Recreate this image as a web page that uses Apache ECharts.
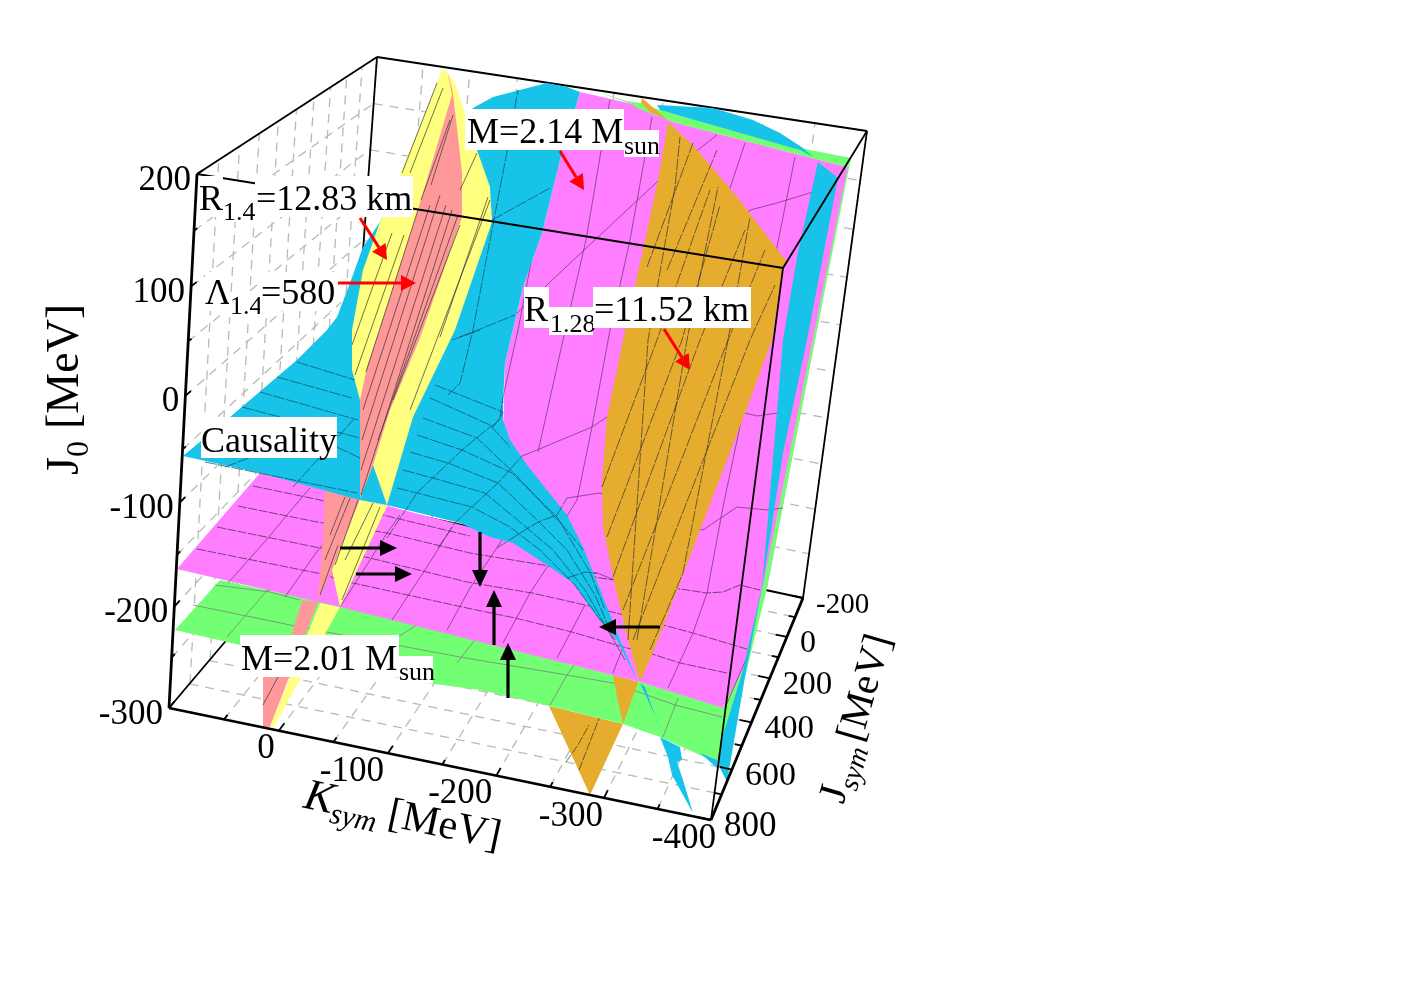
<!DOCTYPE html>
<html>
<head>
<meta charset="utf-8">
<style>html,body{margin:0;padding:0;background:#fff}#chart{width:1404px;height:992px}</style>
<script src="https://cdn.jsdelivr.net/npm/echarts@6/dist/echarts.min.js"></script>
</head>
<body>
<div id="chart"></div>
<script>
// axis values
const kTicks = [0, -100, -200, -300, -400]
const kMinor = [50, -50, -150, -250, -350]
const jsymTicks = [-200, 0, 200, 400, 600, 800]
const jsymMinor = [-100, 100, 300, 500, 700]
const j0Ticks = [200, 100, 0, -100, -200, -300]
const j0Minor = [150, 50, -50, -150, -250]
const kRange = [100, -400]
const jsymRange = [800, -200]
const j0Range = [-300, 200]

const cornerFrontBottomLeft = [169, 708]
const cornerFrontBottomRight = [711, 820]
const cornerBackBottomRight = [803, 598]
const cornerBackBottomLeft = [345, 500]
const cornerFrontTopLeft = [197, 174]
const cornerFrontTopRight = [783, 268]
const cornerBackTopRight = [867, 131]
const cornerBackTopLeft = [377, 57]

// surfaces as seen on the projected plane
const greenSheet = [[175,630],[220,580],[340,606],[640,682],[725,708],[717,762],[700,755],[660,737],[623,724],[550,706],[480,690],[427,683],[300,660],[240,645]]
const greenTop = [[597,92],[627,101],[640,103],[660,110],[800,148],[851,158],[848,167],[800,155],[673,122],[637,108],[632,104]]
const greenRight = [[717,762],[723,708],[743,670],[763,585],[808,363],[843,190],[848,167],[851,158],[815,340],[767,588],[745,677]]
const magentaSheet = [[177,569],[260,473],[500,535],[505,363],[523,287],[542,233],[560,160],[580,92],[637,105],[673,122],[800,155],[848,167],[815,340],[767,588],[752,640],[743,670],[723,708],[640,682],[340,607]]
const orangeLower = [[549,706],[623,724],[590,795]]
const orangeOnGreen = [[613,675],[638,682],[623,724],[617,697]]
const orangeTip = [[642,98],[668,120],[650,112],[641,103]]
const orangeSheet = [[668,122],[660,170],[643,250],[623,340],[607,417],[602,483],[603,527],[613,577],[628,640],[640,682],[658,640],[700,530],[745,413],[772,340],[782,272],[787,262],[737,197],[693,145]]
const cyanSheet = [[473,108],[493,97],[547,83],[567,87],[580,92],[560,160],[542,233],[523,287],[505,363],[503,403],[503,420],[510,440],[527,465],[567,515],[583,547],[603,597],[620,640],[638,682],[617,640],[597,617],[573,583],[550,567],[513,543],[490,537],[460,523],[387,505],[360,500],[260,473],[183,456],[230,417],[297,360],[327,330],[337,317],[350,283],[363,247],[380,222],[400,175],[440,115],[465,117]]
const cyanTop = [[657,105],[713,108],[753,120],[780,133],[803,148],[813,157],[800,150],[660,110]]
const cyanRight = [[818,162],[838,178],[807,340],[783,453],[762,588],[783,340],[797,257]]
const cyanCorner = [[717,762],[723,735],[743,670],[763,582],[745,677],[727,782]]
const cyanCornerWedge = [[700,753],[717,760],[717,768]]
const cyanTailGreen = [[640,683],[645,687],[663,738],[657,720]]
const cyanTailLow = [[660,737],[680,747],[682,760],[677,762],[683,780],[693,813],[672,775],[668,757]]
const yellowSheet = [[443,68],[455,83],[477,150],[490,187],[492,222],[455,330],[413,417],[387,505],[373,465],[360,498],[360,400],[352,370],[352,330],[363,270],[380,222],[400,175]]
const redSheet = [[447,69],[453,93],[462,173],[462,217],[420,338],[390,410],[373,465],[360,498],[360,400],[367,367],[377,337],[417,213],[452,95]]
const redOnMagenta = [[325,490],[360,500],[332,570],[318,600],[323,537]]
const yellowOnMagenta = [[360,499],[387,506],[340,607],[332,570]]
const redOnGreen = [[302,600],[318,602],[270,727],[263,727],[263,677],[290,640]]
const yellowOnGreen = [[320,603],[340,607],[273,728],[270,727]]

// mesh lines on the surfaces
const meshGreen = [
  [[215,585],[270,592],[300,600]],
  [[193,605],[300,627],[460,657],[567,675],[613,683],[675,705],[722,717]],
  [[227,637],[270,587]],
  [[393,640],[420,623]],
  [[457,663],[477,637]],
  [[550,705],[567,675],[585,650]],
  [[663,737],[678,698]]
]
const meshMagentaA = [
  [[253,486],[320,500],[387,516],[470,536]],
  [[238,506],[317,522],[387,533],[470,553],[543,565],[600,578],[680,589],[707,593],[723,592],[740,585],[760,590]],
  [[217,527],[320,548],[370,558],[467,582],[532,593],[585,605],[663,625],[693,633],[750,650]],
  [[197,549],[317,573],[353,583],[467,608],[515,618],[572,632],[623,647],[652,654],[680,663],[727,673]]
]
const meshMagentaB = [
  [[228,583],[268,538],[287,515],[310,488]],
  [[285,597],[318,550],[325,542]],
  [[340,607],[370,560],[387,533],[400,515]],
  [[392,620],[425,570],[452,527]],
  [[447,630],[470,588],[502,540]],
  [[503,643],[530,593],[547,567]],
  [[557,658],[585,605]],
  [[613,673],[623,647]],
  [[668,688],[693,633],[707,593],[723,507],[743,412]],
  [[725,708],[750,650]]
]
const meshMagentaUp = [
  [[460,337],[515,315],[582,252],[657,182],[717,135]],
  [[522,456],[537,450],[592,427],[610,415],[750,210],[777,203],[813,192]],
  [[567,498],[600,493],[703,530],[737,507],[767,510],[783,508]],
  [[567,578],[597,573],[640,590]],
  [[745,413],[757,416],[777,413]],
  [[507,152],[518,90]],
  [[503,397],[518,330],[548,175],[570,95]],
  [[538,452],[563,340],[586,240],[600,157],[610,100]],
  [[577,500],[592,427],[610,330],[630,240],[652,117]],
  [[540,560],[577,500]],
  [[745,143],[727,197]],
  [[795,157],[777,247],[762,330]]
]
const meshOrange = [
  [[602,487],[657,340],[710,190]],
  [[607,537],[682,340],[720,205]],
  [[613,577],[700,340],[745,230]],
  [[623,610],[728,340],[765,250]],
  [[633,640],[750,340],[775,285]],
  [[628,640],[648,340],[675,187],[680,137]],
  [[637,640],[687,340],[718,187]],
  [[650,650],[683,573],[728,340],[750,217]],
  [[647,267],[693,143]],
  [[667,270],[717,150]],
  [[566,762],[578,745],[589,725]],
  [[579,770],[600,716]]
]
const meshCyan = [
  [[435,385],[503,412]],
  [[430,398],[490,425],[510,447]],
  [[423,418],[477,438],[513,472],[567,530],[583,550]],
  [[417,435],[462,450],[512,473],[557,517],[590,572],[605,610]],
  [[410,452],[448,463],[498,483],[537,520],[567,550],[595,595],[610,630]],
  [[403,470],[433,478],[485,493],[527,528],[553,550],[585,590],[625,660]],
  [[397,488],[417,493],[472,507],[510,527],[540,550],[575,585],[615,640]],
  [[387,538],[417,493],[462,450],[490,427],[498,422],[503,412]],
  [[438,548],[455,523],[472,507],[498,483],[522,456]],
  [[497,548],[525,530],[538,522],[557,515],[567,498]],
  [[567,578],[585,572],[597,573]],
  [[448,395],[460,383],[473,330],[490,240],[507,152],[518,90]],
  [[492,428],[500,418],[503,397]],
  [[452,340],[480,330]],
  [[460,337],[515,315]],
  [[492,220],[550,188]],
  [[297,362],[355,380]],
  [[277,377],[352,398]],
  [[260,392],[358,420]],
  [[242,407],[360,438]],
  [[337,447],[360,458]],
  [[205,462],[357,493]],
  [[293,487],[353,420]],
  [[225,467],[270,450]]
]
const meshSheets = [
  [[352,345],[392,233]],
  [[355,375],[404,235]],
  [[402,173],[437,83]],
  [[410,173],[443,88]],
  [[366,372],[418,210]],
  [[363,410],[430,205]],
  [[362,440],[440,195]],
  [[361,470],[446,205]],
  [[361,495],[452,210]],
  [[378,440],[458,215]],
  [[393,400],[460,225]],
  [[421,200],[450,120]],
  [[431,185],[453,115]],
  [[410,410],[490,200]],
  [[440,337],[488,197]],
  [[460,190],[477,153]],
  [[330,535],[345,497]],
  [[325,560],[350,498]],
  [[335,565],[358,500]],
  [[320,595],[338,545]],
  [[345,560],[373,503]],
  [[342,600],[380,507]],
  [[263,705],[287,660]]
]

// annotations
const labelPieces = [
  { text: 'R', size: 36, x: 199, base: 208, box: [199, 176, 223, 217] },
  { text: '1.4', size: 26, x: 223, base: 218, box: [223, 187, 255, 222] },
  { text: '=12.83 km', size: 36, x: 256, base: 208, box: [255, 176, 413, 217] },
  { text: 'Λ', size: 36, x: 205, base: 302, box: [205, 272, 229, 311] },
  { text: '1.4', size: 26, x: 230, base: 312, box: [229, 292, 260, 317] },
  { text: '=580', size: 36, x: 261, base: 302, box: [260, 272, 336, 311] },
  { text: 'Causality', size: 36, x: 201, base: 450, box: [201, 417, 337, 458] },
  { text: 'M=2.14 M', size: 36, x: 467, base: 141, box: [465, 109, 624, 150] },
  { text: 'sun', size: 26, x: 624, base: 152, box: [624, 130, 659, 157] },
  { text: 'R', size: 36, x: 524, base: 319, box: [524, 287, 549, 328] },
  { text: '1.28', size: 26, x: 550, base: 330, box: [549, 307, 593, 335] },
  { text: '=11.52 km', size: 36, x: 594, base: 319, box: [593, 287, 751, 328] },
  { text: 'M=2.01 M', size: 36, x: 241, base: 668, box: [240, 635, 399, 677] },
  { text: 'sun', size: 26, x: 399, base: 678, box: [399, 656, 433, 683] }
]
const redArrows = [[[360, 218], [387, 260]], [[338, 283], [416, 283]], [[560, 151], [584, 190]], [[664, 329], [690, 370]]]
const blackArrows = [[[340, 548], [397, 548]], [[356, 574], [412, 574]], [[480, 532], [480, 587]], [[494, 645], [494, 590]], [[508, 698], [508, 643]], [[660, 627], [599, 627]]]

const FONT = '"Liberation Serif", "Times New Roman", serif'
const cyan = '#17c3e9', magenta = '#ff7dff', green = '#73ff73', yellow = '#ffff80', red = '#ff9999', orange = '#e5ac2d'
// the Jsym labels shrink with distance in the reference
const jsymLabelSize = { '-200': 29, 0: 32, 200: 33, 400: 33, 600: 34, 800: 35 }
const kLabelShift = { 0: -4, '-100': -4, '-200': -4, '-300': -1, '-400': 5 }

// square to quad mapping used for the walls and the floor
function quad(p00, p10, p01, p11) {
  const dx1 = p10[0] - p11[0], dx2 = p01[0] - p11[0], sx = p00[0] - p10[0] + p11[0] - p01[0]
  const dy1 = p10[1] - p11[1], dy2 = p01[1] - p11[1], sy = p00[1] - p10[1] + p11[1] - p01[1]
  const den = dx1 * dy2 - dx2 * dy1
  const g = (sx * dy2 - dx2 * sy) / den, h = (dx1 * sy - sx * dy1) / den
  const a = p10[0] - p00[0] + g * p10[0], b = p01[0] - p00[0] + h * p01[0]
  const d = p10[1] - p00[1] + g * p10[1], e = p01[1] - p00[1] + h * p01[1]
  return (u, v) => {
    const w = g * u + h * v + 1
    return [(a * u + b * v + p00[0]) / w, (d * u + e * v + p00[1]) / w]
  }
}
const frac = (v, r) => (v - r[0]) / (r[1] - r[0])

const floorMap = quad(cornerFrontBottomLeft, cornerFrontBottomRight, cornerBackBottomLeft, cornerBackBottomRight)
const leftMap = quad(cornerFrontBottomLeft, cornerBackBottomLeft, cornerFrontTopLeft, cornerBackTopLeft)
const backMap = quad(cornerBackBottomLeft, cornerBackBottomRight, cornerBackTopLeft, cornerBackTopRight)
const floorAt = (k, js) => floorMap(frac(k, kRange), frac(js, jsymRange))
const leftAt = (js, j0) => leftMap(frac(js, jsymRange), frac(j0, j0Range))
const backAt = (k, j0) => backMap(frac(k, kRange), frac(j0, j0Range))

const kAll = kTicks.concat(kMinor), jsymAll = jsymTicks.concat(jsymMinor), j0All = j0Ticks.concat(j0Minor)
const wallGrid = []
kAll.forEach(k => { wallGrid.push([floorAt(k, 800), floorAt(k, -200)]); wallGrid.push([backAt(k, -300), backAt(k, 200)]) })
jsymAll.forEach(js => {
  wallGrid.push([floorAt(100, js), floorAt(-400, js)])
  wallGrid.push([leftAt(js, -300), leftAt(js, 200)])
})
j0All.forEach(j0 => { wallGrid.push([leftAt(800, j0), leftAt(-200, j0)]); wallGrid.push([backAt(100, j0), backAt(-400, j0)]) })

// tick marks point into the box
const tickMarks = []
kTicks.forEach(k => tickMarks.push([floorAt(k, 800), floorAt(k, 770)]))
kMinor.forEach(k => tickMarks.push([floorAt(k, 800), floorAt(k, 782)]))
jsymTicks.forEach(js => tickMarks.push([floorAt(-400, js), floorAt(-388, js)]))
jsymMinor.forEach(js => tickMarks.push([floorAt(-400, js), floorAt(-393, js)]))
j0Ticks.forEach(j0 => tickMarks.push([leftAt(800, j0), leftAt(775, j0)]))
j0Minor.forEach(j0 => tickMarks.push([leftAt(800, j0), leftAt(785, j0)]))

const fill = (name, polys, color) => ({
  type: 'custom', name, silent: true, animation: false,
  data: polys.map((p, i) => [i, 0]),
  renderItem: (params, api) => ({
    type: 'polygon',
    shape: { points: polys[params.dataIndex].map(p => api.coord(p)) },
    style: { fill: color }
  })
})
const stroke = (name, lines, color, width, dash) => ({
  type: 'custom', name, silent: true, animation: false,
  data: lines.map((p, i) => [i, 0]),
  renderItem: (params, api) => ({
    type: 'polyline',
    shape: { points: lines[params.dataIndex].map(p => api.coord(p)) },
    style: { stroke: color, lineWidth: width, fill: null, lineDash: dash || null }
  })
})
const arrows = (name, list, color, width, headLen, headWid) => ({
  type: 'custom', name, silent: true, animation: false,
  data: list.map((p, i) => [i, 0]),
  renderItem: (params, api) => {
    const a = api.coord(list[params.dataIndex][0]), b = api.coord(list[params.dataIndex][1])
    const len = Math.hypot(b[0] - a[0], b[1] - a[1])
    const ux = (b[0] - a[0]) / len, uy = (b[1] - a[1]) / len
    const bx = b[0] - ux * headLen, by = b[1] - uy * headLen
    return {
      type: 'group',
      children: [
        { type: 'line', shape: { x1: a[0], y1: a[1], x2: bx, y2: by }, style: { stroke: color, lineWidth: width } },
        { type: 'polygon', shape: { points: [b, [bx - uy * headWid, by + ux * headWid], [bx + uy * headWid, by - ux * headWid]] }, style: { fill: color } }
      ]
    }
  }
})
const pieceText = (text, size, x, y, align, italic) => ({
  type: 'text',
  style: { text, x, y, align: align || 'left', verticalAlign: 'bottom', fill: '#000', font: (italic ? 'italic ' : '') + size + 'px ' + FONT }
})
const baseY = (base, size) => base + size * 0.3

const labels = {
  type: 'custom', name: 'labels', silent: true, animation: false,
  data: labelPieces.map((p, i) => [i, 0]),
  renderItem: (params, api) => {
    const p = labelPieces[params.dataIndex]
    const a = api.coord([p.box[0], p.box[1]]), b = api.coord([p.box[2], p.box[3]])
    const t = api.coord([p.x, p.base])
    return {
      type: 'group',
      children: [
        { type: 'rect', shape: { x: a[0], y: a[1], width: b[0] - a[0], height: b[1] - a[1] }, style: { fill: '#fff' } },
        pieceText(p.text, p.size, t[0], baseY(t[1], p.size))
      ]
    }
  }
}
const tickLabel = (name, values, at, dxOf, dy, align, sizeOf) => ({
  type: 'custom', name, silent: true, animation: false,
  data: values.map((v, i) => [i, 0]),
  renderItem: (params, api) => {
    const v = values[params.dataIndex]
    const c = api.coord(at(v))
    const size = sizeOf(v)
    return pieceText(String(v), size, c[0] + dxOf(v), c[1] + dy + size * 0.4, align)
  }
})
const title = (name, x, y, angle, pieces) => ({
  type: 'custom', name, silent: true, animation: false,
  data: [[0, 0]],
  renderItem: (params, api) => {
    const c = api.coord([x, y])
    return {
      type: 'group', x: c[0], y: c[1], rotation: angle,
      children: pieces.map(p => pieceText(p[0], p[1], p[2], p[3] + p[1] * 0.22, 'left', p[4]))
    }
  }
})

const chart = echarts.init(document.getElementById('chart'), null, { renderer: 'canvas' })
chart.setOption({
  animation: false,
  backgroundColor: '#fff',
  grid: { left: 0, right: 0, top: 0, bottom: 0 },
  xAxis: { type: 'value', min: 0, max: 1404, show: false },
  yAxis: { type: 'value', min: 0, max: 992, inverse: true, show: false },
  series: [
    stroke('wall grid', wallGrid, '#b9b9b9', 1.3, [9, 7]),
    stroke('back edges', [[cornerBackBottomLeft, cornerBackTopLeft], [cornerBackTopLeft, cornerBackTopRight], [cornerFrontTopLeft, cornerBackTopLeft], [cornerBackTopRight, cornerBackBottomRight], [cornerBackBottomRight, cornerBackBottomLeft], [cornerFrontBottomLeft, cornerBackBottomLeft]], '#000', 1.8),
    fill('orange low', [orangeLower], orange),
    stroke('orange low mesh', meshOrange.slice(10), '#333', 0.7, [9, 1.5]),
    fill('M=2.01', [greenSheet], green),
    stroke('M=2.01 mesh', meshGreen, '#777', 0.7),
    fill('orange on green', [orangeOnGreen], orange),
    fill('tail on green', [cyanTailGreen, cyanTailLow], cyan),
    fill('sheets on green', [redOnGreen], red),
    fill('sheets on green 2', [yellowOnGreen], yellow),
    fill('M=2.14', [magentaSheet], magenta),
    fill('green strips', [greenRight, greenTop], green),
    stroke('M=2.14 mesh', meshMagentaA, '#442244', 0.7, [9, 1.5]),
    stroke('M=2.14 mesh cross', meshMagentaB.concat(meshMagentaUp), '#663366', 0.7),
    fill('Lambda low', [redOnMagenta], red),
    fill('R low', [yellowOnMagenta], yellow),
    fill('R128', [orangeSheet, orangeTip], orange),
    stroke('R128 mesh', meshOrange.slice(0, 10), '#333', 0.7, [12, 1.5]),
    fill('causality', [cyanSheet, cyanTop, cyanRight, cyanCorner, cyanCornerWedge], cyan),
    stroke('causality mesh', meshCyan, '#0d4a5c', 0.7, [12, 1.5]),
    fill('R14', [yellowSheet], yellow),
    fill('Lambda', [redSheet], red),
    stroke('sheet mesh', meshSheets, '#333', 0.7),
    stroke('front edges', [[cornerFrontTopLeft, cornerFrontTopRight], [cornerFrontTopRight, cornerBackTopRight], [cornerFrontTopRight, cornerFrontBottomRight]], '#000', 1.8),
    stroke('ticks', tickMarks, '#000', 1.8),
    stroke('axes', [[cornerFrontTopLeft, cornerFrontBottomLeft], [cornerFrontBottomLeft, cornerFrontBottomRight], [cornerFrontBottomRight, cornerBackBottomRight]], '#000', 2.8),
    labels,
    arrows('red arrows', redArrows, '#ff0000', 3, 15, 8),
    arrows('black arrows', blackArrows, '#000', 3.2, 17, 8),
    tickLabel('J0 ticks', j0Ticks, v => leftAt(800, v), () => -6, 10, 'right', () => 35),
    tickLabel('Ksym ticks', kTicks, v => floorAt(v, 800), v => kLabelShift[v], 22, 'right', () => 35),
    tickLabel('Jsym ticks', jsymTicks, v => floorAt(-400, v), () => 13, 10, 'left', v => jsymLabelSize[v]),
    title('J0 title', 79, 475, Math.PI / 2, [['J', 46, 0, 0, false], ['0', 32, 18, 10, false], ['[MeV]', 46, 46, 0, false]]),
    title('Ksym title', 302, 808, -0.21, [['K', 44, 0, 0, true], ['sym', 30, 29, 9, true], ['[MeV]', 42, 86, 0, false]]),
    title('Jsym title', 844, 805, 1.29, [['J', 40, 0, 0, false], ['sym', 28, 16, 9, true], ['[MeV]', 40, 64, 0, false]])
  ]
})
</script>
</body>
</html>
